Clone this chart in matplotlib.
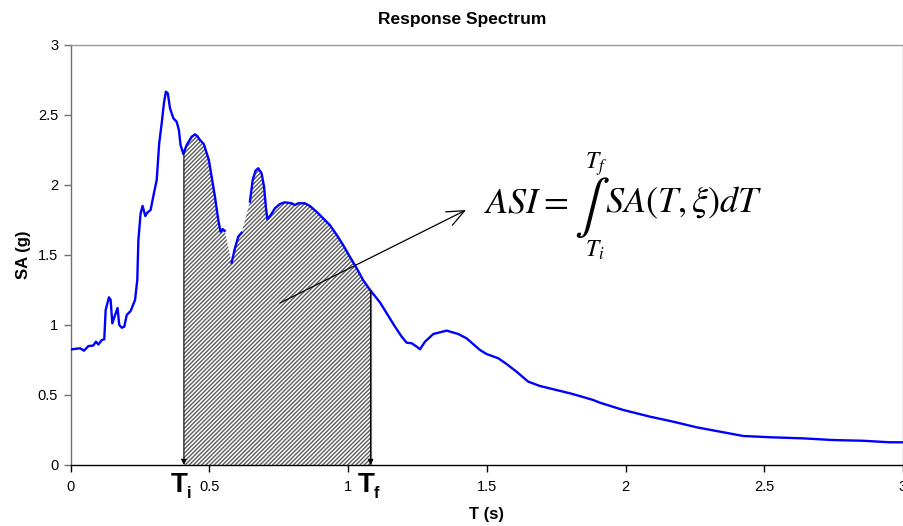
import numpy as np
import matplotlib
matplotlib.use("Agg")
import matplotlib.pyplot as plt

plt.rcParams["font.family"] = ["Liberation Sans", "DejaVu Sans"]
plt.rcParams["mathtext.fontset"] = "stix"
plt.rcParams["hatch.linewidth"] = 1.0

# spectral acceleration curve, T in seconds, SA in g
period = [0.005, 0.034, 0.048, 0.064, 0.081, 0.091, 0.100, 0.112, 0.121, 0.126,
          0.138, 0.144, 0.150, 0.160, 0.169, 0.175, 0.184, 0.193, 0.202, 0.216,
          0.232, 0.240, 0.244, 0.252, 0.259, 0.269, 0.276, 0.288, 0.300, 0.310,
          0.319, 0.328, 0.336, 0.343, 0.350, 0.358, 0.370, 0.382, 0.390, 0.396,
          0.406, 0.418, 0.436, 0.448, 0.456, 0.466, 0.480, 0.498, 0.508, 0.520,
          0.532, 0.540, 0.548, 0.555, 0.565, 0.573, 0.580, 0.592, 0.604, 0.616,
          0.626, 0.636, 0.646, 0.656, 0.666, 0.676, 0.688, 0.697, 0.704, 0.709,
          0.721, 0.736, 0.754, 0.772, 0.796, 0.808, 0.820, 0.844, 0.862, 0.886,
          0.910, 0.934, 0.959, 0.982, 1.006, 1.031, 1.054, 1.079, 1.115, 1.139,
          1.169, 1.193, 1.211, 1.229, 1.247, 1.259, 1.277, 1.307, 1.355, 1.397,
          1.427, 1.475, 1.499, 1.541, 1.571, 1.607, 1.649, 1.691, 1.751, 1.799,
          1.835, 1.883, 1.907, 1.991, 2.088, 2.172, 2.256, 2.340, 2.424, 2.520,
          2.640, 2.748, 2.856, 2.952, 3.000]
sa = [0.826, 0.833, 0.816, 0.849, 0.852, 0.880, 0.860, 0.892, 0.897, 1.106,
      1.197, 1.178, 1.011, 1.071, 1.121, 0.999, 0.980, 0.987, 1.071, 1.099,
      1.178, 1.320, 1.606, 1.796, 1.849, 1.777, 1.801, 1.820, 1.939, 2.034,
      2.296, 2.439, 2.582, 2.665, 2.653, 2.546, 2.475, 2.450, 2.391, 2.284,
      2.220, 2.284, 2.343, 2.360, 2.348, 2.320, 2.290, 2.177, 2.058, 1.915,
      1.749, 1.665, 1.684, 1.672, 1.500, 1.440, 1.444, 1.547, 1.630, 1.658,
      1.690, 1.760, 1.880, 2.034, 2.100, 2.118, 2.082, 1.986, 1.832, 1.754,
      1.784, 1.832, 1.863, 1.875, 1.868, 1.856, 1.868, 1.868, 1.849, 1.808,
      1.761, 1.713, 1.642, 1.570, 1.487, 1.404, 1.320, 1.249, 1.160, 1.083,
      0.987, 0.916, 0.873, 0.869, 0.845, 0.826, 0.880, 0.935, 0.959, 0.935,
      0.904, 0.821, 0.792, 0.762, 0.721, 0.666, 0.595, 0.564, 0.535, 0.512,
      0.492, 0.464, 0.445, 0.393, 0.345, 0.309, 0.269, 0.238, 0.207, 0.198,
      0.190, 0.178, 0.173, 0.162, 0.162]

# integration limits
t_i = 0.408
t_f = 1.081
# spans where the shaded area is closed by a straight chord over the curve
chords = [(0.555, 0.580), (0.616, 0.646)]

x_ticks = [0, 0.5, 1, 1.5, 2, 2.5, 3]
x_tick_labels = ["0", "0.5", "1", "1.5", "2", "2.5", "3"]
y_ticks = [0, 0.5, 1, 1.5, 2, 2.5, 3]
y_tick_labels = ["0", "0.5", "1", "1.5", "2", "2.5", "3"]

T = np.array(period)
S = np.array(sa)

inside_chord = np.zeros(len(T), dtype=bool)
for a, b in chords:
    inside_chord |= (T > a) & (T < b)

fig = plt.figure(figsize=(9.04, 5.26), dpi=100)
ax = fig.add_axes([0.0782, 0.116, 0.9207, 0.799])

# hatched area between the limits
sa_i = np.interp(t_i, T, S)
sa_f = np.interp(t_f, T, S)
keep = (T > t_i) & (T < t_f) & ~inside_chord
px = np.concatenate([[t_i, t_i], T[keep], [t_f, t_f]])
py = np.concatenate([[0, sa_i], S[keep], [sa_f, 0]])
ax.fill(px, py, facecolor="white", edgecolor="#5c5c5c", hatch="////////",
        linewidth=0, zorder=1)

# curve, hidden where the shaded area covers it
S_line = S.copy()
S_line[inside_chord] = np.nan
ax.plot(T, S_line, color="#0000ff", lw=1.7, zorder=3, solid_joinstyle="round")

# limit markers
ax.plot([t_f, t_f], [0, sa_f], color="#7a7a7a", lw=1.6, zorder=2)
for t0, s0 in [(t_i, sa_i), (t_f, sa_f)]:
    ax.annotate("", xy=(t0, 0.0), xytext=(t0, s0),
                arrowprops=dict(arrowstyle="-|>", color="black", lw=0.8,
                                mutation_scale=8, shrinkA=0, shrinkB=0),
                zorder=4)

# pointer to the formula
ax.annotate("", xy=(1.425, 1.82), xytext=(0.754, 1.156),
            arrowprops=dict(arrowstyle="->,head_length=0.7,head_width=0.3",
                            color="black", lw=0.9, mutation_scale=18,
                            shrinkA=0, shrinkB=0), zorder=4)

fs = 26
ax.text(1.49, 1.80, r"$ASI =$", fontsize=fs, va="baseline", ha="left")
ax.text(1.880, 1.84, r"$\int$", fontsize=38, va="center", ha="center")
ax.text(1.925, 1.80, r"$SA(T,\xi)dT$", fontsize=fs, va="baseline", ha="left")
ax.text(1.852, 2.15, r"$T_f$", fontsize=17, va="center", ha="left")
ax.text(1.852, 1.53, r"$T_i$", fontsize=17, va="center", ha="left")

# limit labels under the axis
for t0, sub in [(t_i, "i"), (t_f, "f")]:
    ax.text(t0 - 0.048, -0.19, "T", fontsize=20, fontweight="bold",
            ha="left", va="baseline", clip_on=False)
    ax.text(t0 + 0.012, -0.235, sub, fontsize=12, fontweight="bold",
            ha="left", va="baseline", clip_on=False)

ax.set_xlim(0, 3)
ax.set_ylim(0, 3)
ax.set_xticks(x_ticks)
ax.set_xticklabels(x_tick_labels)
ax.set_yticks(y_ticks)
ax.set_yticklabels(y_tick_labels)
ax.tick_params(axis="both", direction="out", length=5, width=1,
               labelsize=10.5)
ax.tick_params(axis="x", pad=6)
ax.tick_params(axis="y", pad=4)

for side in ["top", "right"]:
    ax.spines[side].set_color("#9a9a9a")
ax.spines["left"].set_color("#6e6e6e")
ax.tick_params(axis="y", color="#6e6e6e")
ax.spines["bottom"].set_color("black")
for sp in ax.spines.values():
    sp.set_linewidth(1.0)

ax.set_xlabel("T (s)", fontsize=12, fontweight="bold", labelpad=9)
ax.set_ylabel("SA (g)", fontsize=12, fontweight="bold", labelpad=5)
fig.text(0.511, 0.962, "Response Spectrum", fontsize=12.5, fontweight="bold",
         ha="center", va="center")

fig.savefig("out.png", dpi=100)
